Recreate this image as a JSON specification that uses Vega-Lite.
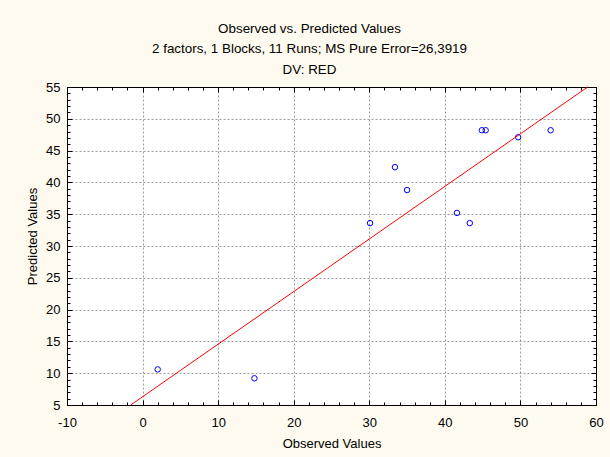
{
  "$schema": "https://vega.github.io/schema/vega-lite/v6.json",
  "width": 529,
  "height": 318,
  "autosize": "none",
  "padding": {"left": 67, "top": 87, "right": 14, "bottom": 52},
  "background": "#FEFAEF",
  "title": {
    "text": ["Observed vs. Predicted Values", "2 factors, 1 Blocks, 11 Runs; MS Pure Error=26,3919", "DV: RED"],
    "font": "Liberation Sans",
    "fontSize": 13.4,
    "fontWeight": "normal",
    "lineHeight": 20.5,
    "color": "#000000",
    "anchor": "middle",
    "dx": -22,
    "offset": 5
  },
  "config": {
    "view": {"fill": "white", "stroke": "black", "strokeWidth": 1},
    "axis": {
      "labelFont": "Liberation Sans",
      "labelFontSize": 13,
      "labelColor": "#000000",
      "titleFont": "Liberation Sans",
      "titleFontSize": 13,
      "titleFontWeight": "normal",
      "titleColor": "#000000",
      "domainColor": "#000000",
      "tickColor": "#000000",
      "gridColor": "#9A9A9A",
      "gridDash": [2, 2],
      "gridWidth": 1
    }
  },
  "resolve": {"axis": {"x": "independent", "y": "independent"}},
  "layer": [
    {
      "data": {"values": [
        {"obs": 2.0, "pred": 10.6},
        {"obs": 14.8, "pred": 9.2},
        {"obs": 30.1, "pred": 33.6},
        {"obs": 33.4, "pred": 42.4},
        {"obs": 35.0, "pred": 38.8},
        {"obs": 41.6, "pred": 35.2},
        {"obs": 43.3, "pred": 33.6},
        {"obs": 44.9, "pred": 48.2},
        {"obs": 45.4, "pred": 48.2},
        {"obs": 49.7, "pred": 47.1},
        {"obs": 54.0, "pred": 48.2}
      ]},
      "mark": {"type": "point", "shape": "circle", "filled": false, "color": "#0000FF", "size": 30, "strokeWidth": 1, "opacity": 1},
      "encoding": {
        "x": {
          "field": "obs", "type": "quantitative",
          "scale": {"domain": [-10, 60], "nice": false, "zero": false},
          "axis": {
            "orient": "bottom",
            "title": "Observed Values",
            "values": [-10,-8,-6,-4,-2,0,2,4,6,8,10,12,14,16,18,20,22,24,26,28,30,32,34,36,38,40,42,44,46,48,50,52,54,56,58,60],
            "labelExpr": "datum.value % 10 === 0 ? ('' + datum.value) : ''",
            "tickSize": {"condition": {"test": "datum.value % 10 === 0", "value": -5}, "value": -3},
            "gridOpacity": {"condition": {"test": "datum.value % 10 === 0 && datum.value > -10 && datum.value < 60", "value": 1}, "value": 0},
            "grid": true,
            "labelPadding": 16,
            "titlePadding": 6,
            "labelFlush": false,
            "labelOverlap": false
          }
        },
        "y": {
          "field": "pred", "type": "quantitative",
          "scale": {"domain": [5, 55], "nice": false, "zero": false},
          "axis": {
            "orient": "left",
            "title": "Predicted Values",
            "values": [5,6,7,8,9,10,11,12,13,14,15,16,17,18,19,20,21,22,23,24,25,26,27,28,29,30,31,32,33,34,35,36,37,38,39,40,41,42,43,44,45,46,47,48,49,50,51,52,53,54,55],
            "labelExpr": "datum.value % 5 === 0 ? ('' + datum.value) : ''",
            "tickSize": {"condition": {"test": "datum.value % 5 === 0", "value": -5}, "value": -3},
            "gridOpacity": {"condition": {"test": "datum.value % 5 === 0 && datum.value > 5 && datum.value < 55", "value": 1}, "value": 0},
            "grid": true,
            "labelPadding": 12,
            "titlePadding": 6,
            "titleY": 149,
            "labelFlush": false,
            "labelOverlap": false
          }
        }
      }
    },
    {
      "data": {"values": [
        {"obs": -1.57, "pred": 5},
        {"obs": 58.9, "pred": 55}
      ]},
      "mark": {"type": "line", "color": "#FF0000", "strokeWidth": 1},
      "encoding": {
        "x": {
          "field": "obs", "type": "quantitative",
          "axis": {
            "orient": "top",
            "title": null,
            "labels": false,
            "grid": false,
            "values": [-10,-8,-6,-4,-2,0,2,4,6,8,10,12,14,16,18,20,22,24,26,28,30,32,34,36,38,40,42,44,46,48,50,52,54,56,58,60],
            "tickSize": {"condition": {"test": "datum.value % 10 === 0", "value": -5}, "value": -3}
          }
        },
        "y": {
          "field": "pred", "type": "quantitative",
          "axis": {
            "orient": "right",
            "title": null,
            "labels": false,
            "grid": false,
            "values": [5,6,7,8,9,10,11,12,13,14,15,16,17,18,19,20,21,22,23,24,25,26,27,28,29,30,31,32,33,34,35,36,37,38,39,40,41,42,43,44,45,46,47,48,49,50,51,52,53,54,55],
            "tickSize": {"condition": {"test": "datum.value % 5 === 0", "value": -5}, "value": -3}
          }
        }
      }
    }
  ]
}
